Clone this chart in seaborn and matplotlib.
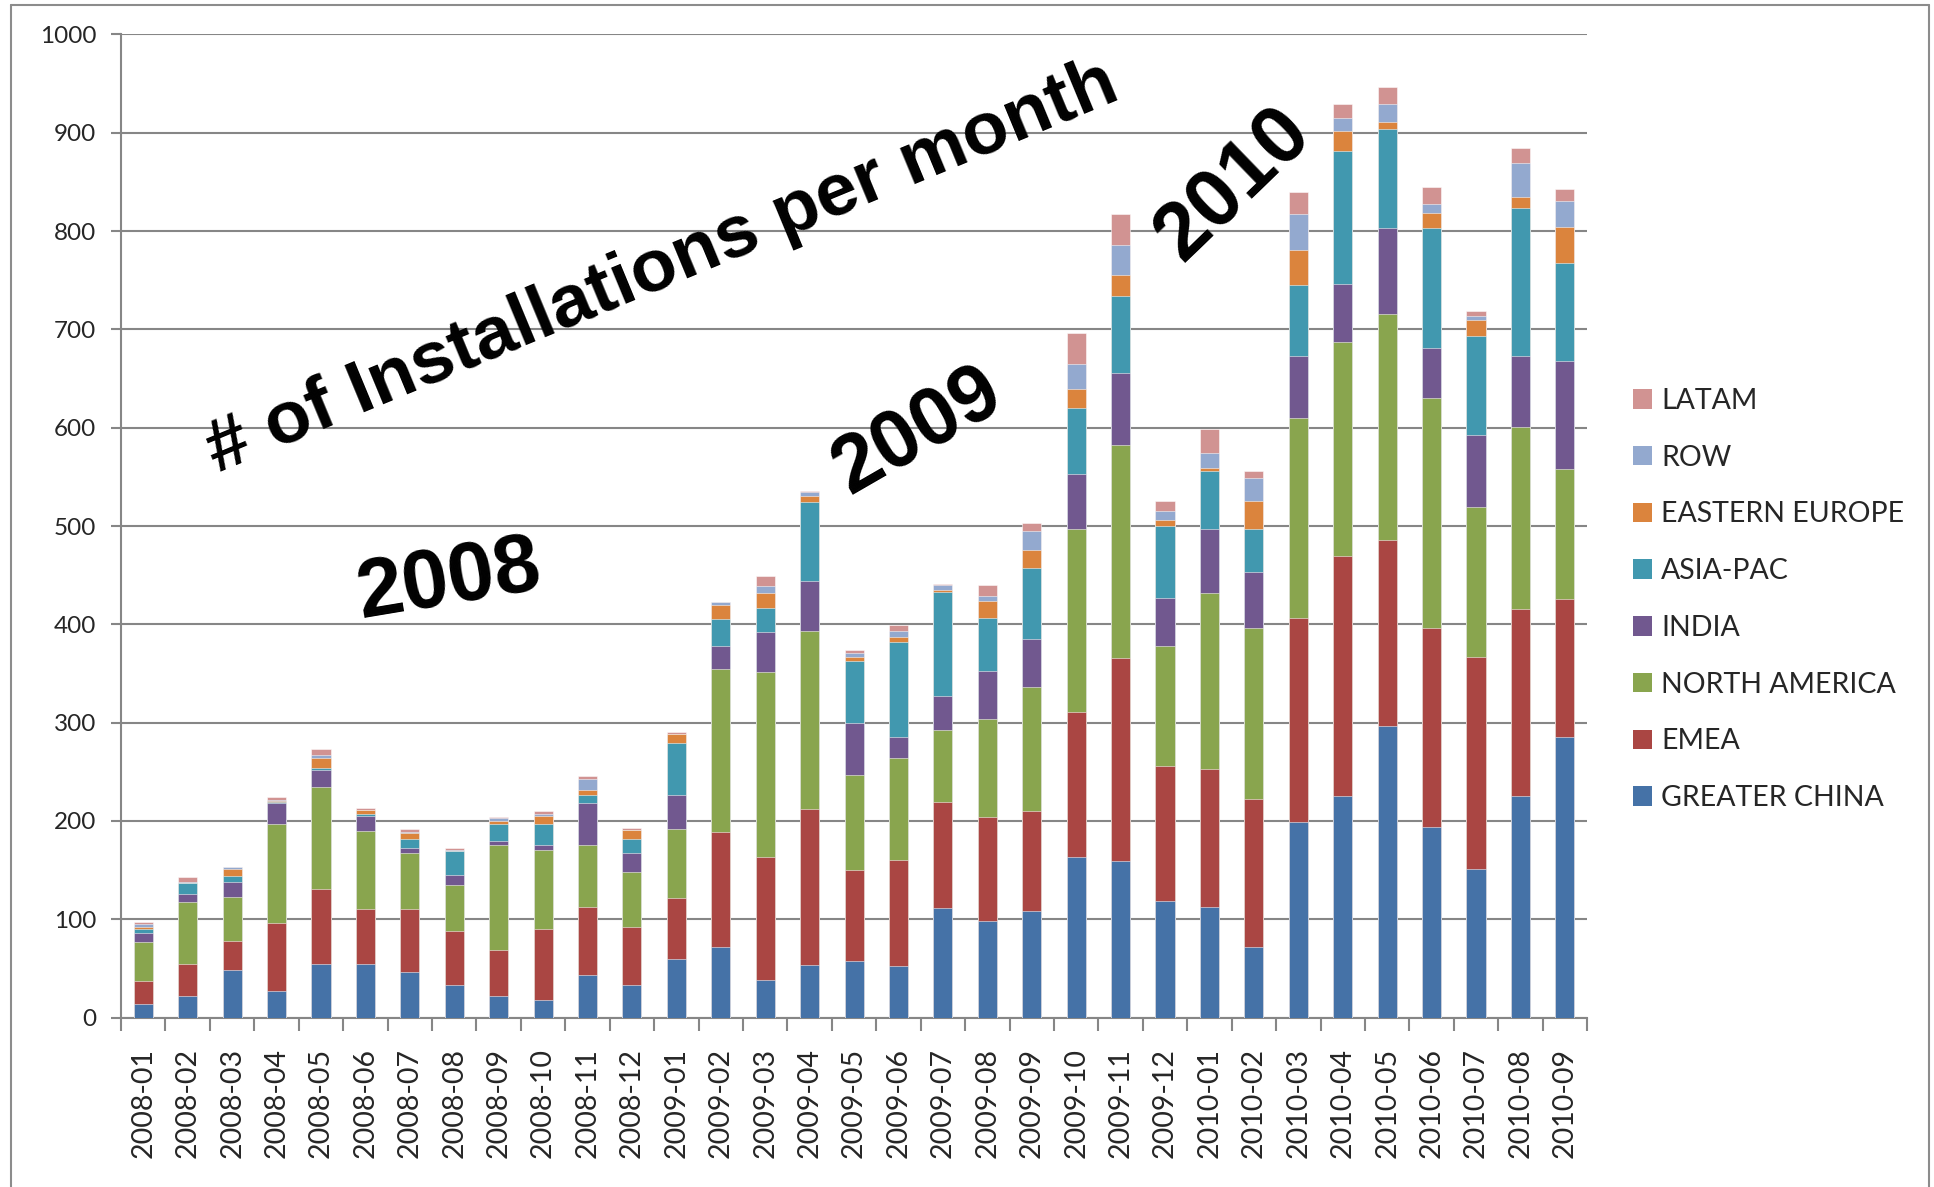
import numpy as np
import pandas as pd
import matplotlib
matplotlib.use("Agg")
import matplotlib.pyplot as plt
from matplotlib.patches import Patch
from matplotlib.lines import Line2D
import seaborn as sns

# months on the x axis
months = ["2008-01", "2008-02", "2008-03", "2008-04", "2008-05", "2008-06",
          "2008-07", "2008-08", "2008-09", "2008-10", "2008-11", "2008-12",
          "2009-01", "2009-02", "2009-03", "2009-04", "2009-05", "2009-06",
          "2009-07", "2009-08", "2009-09", "2009-10", "2009-11", "2009-12",
          "2010-01", "2010-02", "2010-03", "2010-04", "2010-05", "2010-06",
          "2010-07", "2010-08", "2010-09"]

# installations per region
greater_china = [14, 22, 48, 27, 55, 55, 46, 33, 22, 18, 43, 33,
                 60, 72, 38, 54, 58, 52, 111, 98, 108, 163, 159, 119,
                 112, 72, 199, 225, 297, 194, 151, 225, 285]
emea = [23, 33, 30, 69, 76, 55, 64, 55, 47, 72, 69, 59,
        62, 117, 125, 158, 92, 108, 108, 106, 102, 148, 207, 137,
        141, 150, 207, 244, 189, 202, 216, 191, 141]
north_america = [40, 63, 45, 101, 104, 80, 57, 47, 107, 80, 64, 56,
                 70, 166, 189, 181, 97, 104, 74, 100, 126, 186, 216, 122,
                 179, 174, 204, 218, 230, 234, 152, 185, 132]
india = [9, 8, 15, 21, 17, 15, 6, 10, 4, 6, 42, 19,
         34, 23, 40, 51, 53, 21, 34, 49, 49, 56, 74, 49,
         65, 57, 63, 59, 87, 51, 74, 72, 110]
asia_pac = [4, 11, 6, 1, 2, 2, 9, 24, 17, 21, 8, 15,
            53, 27, 25, 80, 63, 97, 106, 53, 72, 67, 78, 73,
            59, 44, 72, 135, 101, 122, 100, 150, 100]
eastern_europe = [2, 0, 7, 1, 10, 4, 6, 0, 3, 8, 6, 9,
                  9, 15, 15, 7, 4, 5, 2, 18, 19, 19, 21, 6,
                  3, 28, 36, 21, 7, 15, 17, 12, 36]
row = [3, 1, 2, 1, 3, 0, 1, 1, 3, 2, 11, 0,
       0, 3, 7, 4, 4, 6, 5, 5, 19, 26, 31, 9,
       15, 24, 36, 13, 18, 10, 4, 34, 27]
latam = [2, 5, 0, 3, 6, 2, 3, 3, 1, 3, 3, 2,
         2, 0, 10, 1, 3, 6, 1, 11, 8, 31, 31, 10,
         25, 7, 23, 14, 18, 17, 5, 15, 12]

regions = ["GREATER CHINA", "EMEA", "NORTH AMERICA", "INDIA",
           "ASIA-PAC", "EASTERN EUROPE", "ROW", "LATAM"]
colors = ["#4572A7", "#AA4643", "#89A54E", "#71588F",
          "#4198AF", "#DB843D", "#93A9CF", "#D19392"]

df = pd.DataFrame({
    "month": months,
    "GREATER CHINA": greater_china,
    "EMEA": emea,
    "NORTH AMERICA": north_america,
    "INDIA": india,
    "ASIA-PAC": asia_pac,
    "EASTERN EUROPE": eastern_europe,
    "ROW": row,
    "LATAM": latam,
})
cum = df[regions].cumsum(axis=1)
cum["month"] = df["month"]

sns.set_style("white")
plt.rcParams["font.family"] = ["Lato", "DejaVu Sans"]

fig = plt.figure(figsize=(19.34, 11.87), dpi=100)
ax = fig.add_axes([0.0626, 0.1427, 0.758, 0.8283])

# stacked bars: draw cumulative totals from the top layer down
for reg, col in reversed(list(zip(regions, colors))):
    sns.barplot(data=cum, x="month", y=reg, color=col, width=0.43,
                saturation=1, edgecolor=(1, 1, 1, 0.6), linewidth=0.6,
                ax=ax, zorder=3)

grey = "#868686"
ax.set_ylim(0, 1000)
ax.set_xlim(-0.5, len(months) - 0.5)
ax.set_yticks(np.arange(0, 1001, 100))
ax.yaxis.grid(True, color=grey, linewidth=1.5, zorder=0)
ax.xaxis.grid(False)
ax.set_xlabel("")
ax.set_ylabel("")
for s in ["top", "right"]:
    ax.spines[s].set_visible(False)
for s in ["left", "bottom"]:
    ax.spines[s].set_color(grey)
    ax.spines[s].set_linewidth(1.5)

ax.tick_params(axis="y", left=True, length=7, width=1.5, color=grey,
               labelsize=17.5, pad=11)
ax.tick_params(axis="x", which="major", bottom=False, length=0,
               labelsize=20.5, pad=22, labelrotation=90)
ax.set_xticks(np.arange(-0.5, len(months), 1), minor=True)
ax.tick_params(axis="x", which="minor", bottom=True, length=9, width=1.5,
               color=grey)

# annotations
txt = dict(family=["Liberation Sans", "DejaVu Sans"], weight="bold",
           color="black", ha="center", va="center", rotation_mode="anchor")
fig.text(0.3425, 0.7742, "# of Installations per month", fontsize=54,
         rotation=22.5, **txt)
fig.text(0.2321, 0.5106, "2008", fontsize=60, rotation=9.5, **txt)
fig.text(0.4744, 0.6363, "2009", fontsize=58.5, rotation=30, **txt)
fig.text(0.6380, 0.8441, "2010", fontsize=59, rotation=44, **txt)

# legend, top entry LATAM
handles = [Patch(facecolor=c, edgecolor="none") for c in colors[::-1]]
fig.legend(handles, regions[::-1], loc="center left",
           bbox_to_anchor=(0.8444, 0.4950), frameon=False, fontsize=20.5,
           handlelength=0.68, handleheight=0.68, handletextpad=0.3,
           labelspacing=1.08, borderpad=0, borderaxespad=0)

# chart area border
frame_kw = dict(color="#8c8c8c", linewidth=1.5, transform=fig.transFigure)
fig.add_artist(Line2D([0.0057, 0.0057], [0, 0.9958], **frame_kw))
fig.add_artist(Line2D([0.0057, 0.9974], [0.9958, 0.9958], **frame_kw))
fig.add_artist(Line2D([0.9974, 0.9974], [0, 0.9958], **frame_kw))

fig.savefig("out.png", dpi=100)
